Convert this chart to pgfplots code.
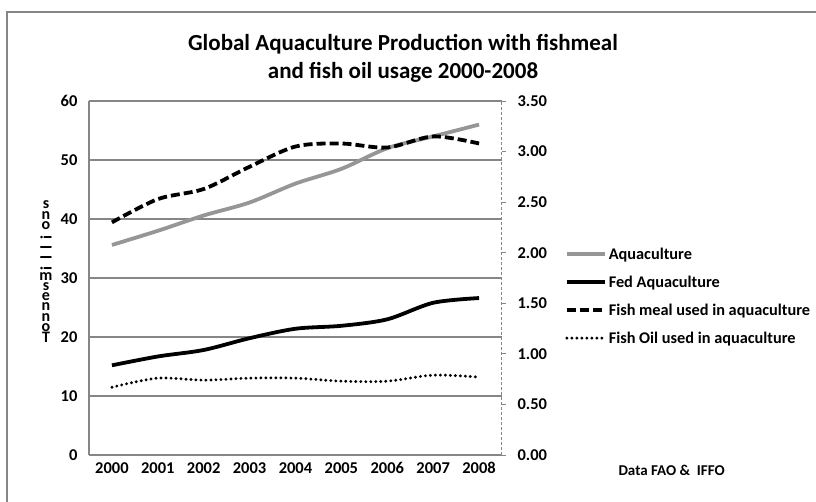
\documentclass[border=0pt]{standalone}
\usepackage{pgfplots}
\pgfplotsset{compat=1.18}
\usepackage{fontspec}
\setmainfont{Carlito}
\definecolor{gridgray}{RGB}{134,134,134}
\definecolor{linegray}{RGB}{150,150,150}

\pgfplotsset{
  common/.style={
    scale only axis, width=413pt, height=354pt,
    at={(89pt,46pt)}, anchor=south west,
    xmin=1999.5, xmax=2008.5,
    ticklabel style={font=\bfseries\fontsize{16.5}{19}\selectfont},
    /pgf/number format/assume math mode=true,
  },
}

\begin{document}
\begin{tikzpicture}[x=1pt,y=1pt]
\path[use as bounding box] (0,0) rectangle (816,501);
\draw[gridgray, line width=1.6pt] (7,-5) -- (7,489) -- (825,489);
\node[font=\bfseries\fontsize{23}{28}\selectfont, align=center] at (403,443)
  {Global Aquaculture Production with fishmeal\\and fish oil usage 2000-2008};
\node[font=\bfseries\fontsize{15}{17}\selectfont, anchor=west] at (615,31) {Data FAO \&\ \ IFFO};

% left axis: million tonnes
\begin{axis}[common,
  axis y line*=left, axis x line*=bottom,
  axis line style={gridgray, line width=1.3pt},
  ymin=0, ymax=60, ytick={0,10,...,60},
  xtick={2000,...,2008},
  xticklabels={2000,2001,2002,2003,2004,2005,2006,2007,2008},
  tick style={draw=none},
  yticklabel style={xshift=-8pt},
  xticklabel style={yshift=-4pt},
  ymajorgrids, grid style={gridgray, line width=1.3pt},
]
\addplot[linegray, line width=3.8pt, smooth] coordinates {
  (2000,35.6) (2001,38.0) (2002,40.6) (2003,42.8) (2004,46.0)
  (2005,48.5) (2006,52.0) (2007,54.0) (2008,56.0)
};
\addplot[black, line width=3.8pt, smooth] coordinates {
  (2000,15.2) (2001,16.7) (2002,17.8) (2003,19.8) (2004,21.4)
  (2005,21.9) (2006,23.0) (2007,25.8) (2008,26.6)
};
\end{axis}

% right axis: fishmeal and fish oil
\begin{axis}[common,
  axis y line*=right, axis x line=none,
  y axis line style={gridgray, line width=1pt, dash pattern=on 3pt off 2pt},
  ymin=0, ymax=3.5, ytick={0,0.5,...,3.5},
  ytick style={gridgray, line width=1pt},
  tick align=outside, major tick length=4pt,
  yticklabel style={xshift=8pt, /pgf/number format/.cd, fixed, fixed zerofill, precision=2},
  legend style={at={(1.1525,0.591)}, anchor=north west, draw=none, fill=none,
    font=\bfseries\fontsize{16.3}{19}\selectfont, row sep=11pt,
    inner sep=0pt, outer sep=0pt},
  legend cell align=left,
  legend image code/.code={\draw[#1] (0pt,0pt) -- (38pt,0pt);},
]
\addlegendimage{linegray, line width=3.8pt}
\addlegendentry{Aquaculture}
\addlegendimage{black, line width=3.8pt}
\addlegendentry{Fed Aquaculture}
\addplot[black, line width=3.8pt, dash pattern=on 9pt off 4pt, smooth] coordinates {
  (2000,2.30) (2001,2.53) (2002,2.63) (2003,2.85) (2004,3.05)
  (2005,3.08) (2006,3.04) (2007,3.15) (2008,3.08)
};
\addlegendentry{Fish meal used in aquaculture}
\addplot[black, line width=3.2pt, dash pattern=on 0pt off 5pt, line cap=round, smooth] coordinates {
  (2000,0.67) (2001,0.76) (2002,0.74) (2003,0.76) (2004,0.76)
  (2005,0.73) (2006,0.73) (2007,0.79) (2008,0.77)
};
\addlegendentry{Fish Oil used in aquaculture}
\end{axis}

% stacked y label, as in the reference
\node[font=\bfseries\fontsize{16}{10.2}\selectfont, align=center, inner sep=0pt] at (46,229)
  {s\\n\\o\\\rotatebox{90}{i}\\\rotatebox{90}{l}\\\rotatebox{90}{l}\\\rotatebox{90}{i}\\m\\s\\e\\n\\n\\o\\T};
\end{tikzpicture}
\end{document}
